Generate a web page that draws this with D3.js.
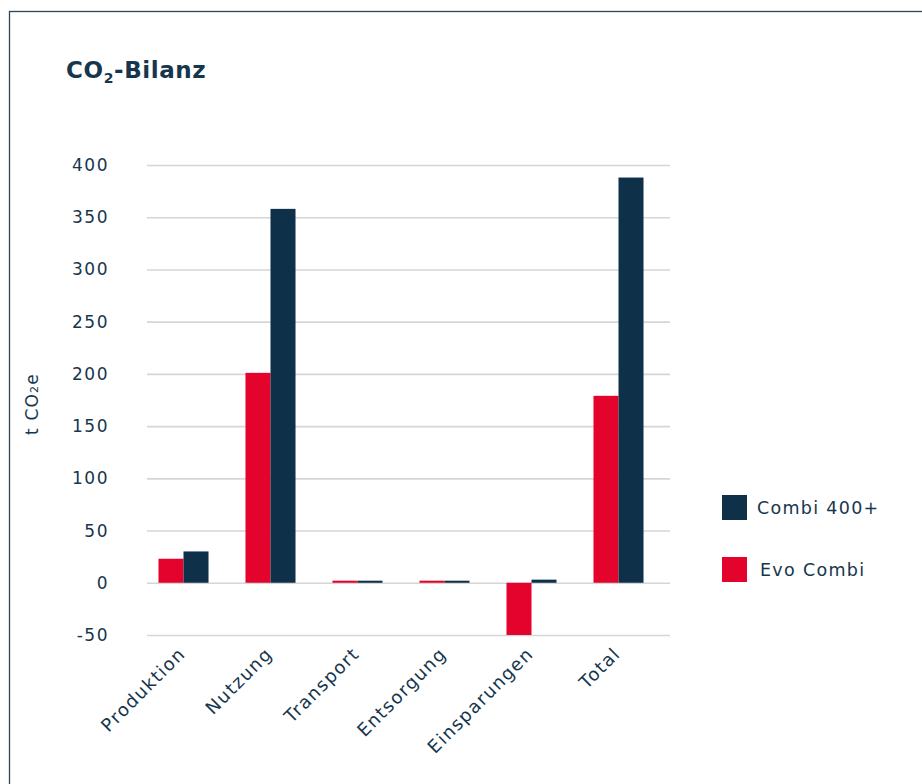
<!DOCTYPE html>
<html>
<head>
<meta charset="utf-8">
<script src="https://cdn.jsdelivr.net/npm/d3@7"></script>
<style>
  body { margin: 0; background: #fff; }
  svg { display: block; font-family: 'DejaVu Sans', sans-serif; }
</style>
</head>
<body>
<div id="chart"></div>
<script>
const categories = ['Produktion', 'Nutzung', 'Transport', 'Entsorgung', 'Einsparungen', 'Total'];
const seriesNames = ['Evo Combi', 'Combi 400+'];
const evoCombi = [23, 201, 2, 2, -50, 179];
const combi400 = [30, 358, 2, 2, 3, 388];
const yTicks = [-50, 0, 50, 100, 150, 200, 250, 300, 350, 400];

const colors = { 'Evo Combi': '#e4032c', 'Combi 400+': '#0f3049' };
const textColor = '#16364e';
const labelFont = "'DejaVu Sans', sans-serif";

const width = 922, height = 784;

const svg = d3.select('#chart')
  .append('svg')
  .attr('width', width)
  .attr('height', height);

// frame
svg.append('rect')
  .attr('x', 9.5).attr('y', 11.5)
  .attr('width', 940).attr('height', 800)
  .attr('fill', 'none')
  .attr('stroke', '#2c4558')
  .attr('stroke-width', 1.3);

// title
const title = svg.append('text')
  .attr('x', 66).attr('y', 78)
  .attr('fill', textColor)
  .style('font-size', '23px')
  .style('font-weight', 700)
  .style('letter-spacing', '0.6px');
title.append('tspan').text('CO');
title.append('tspan').text('2').attr('dy', 5).style('font-size', '14px');
title.append('tspan').text('-Bilanz').attr('dy', -5);

const yScale = d3.scaleLinear()
  .domain([-50, 400])
  .range([635, 165]);

const xScale = d3.scaleBand()
  .domain(categories)
  .range([140, 662])
  .paddingInner(0.425)
  .paddingOuter(0.2125);

const xSub = d3.scaleBand()
  .domain(seriesNames)
  .range([0, xScale.bandwidth()]);

// gridlines
const grid = svg.append('g')
  .attr('transform', 'translate(147,0)')
  .call(d3.axisLeft(yScale).tickValues(yTicks).tickFormat('').tickSize(-523));
grid.select('.domain').remove();
grid.selectAll('line').attr('stroke', '#d6d6d6').attr('stroke-width', 1.6);

// y axis labels
const yAxis = svg.append('g')
  .attr('transform', 'translate(109,0)')
  .call(d3.axisLeft(yScale).tickValues(yTicks).tickSize(0).tickPadding(0)
    .tickFormat((d) => String(d)));
yAxis.select('.domain').remove();
yAxis.selectAll('text')
  .attr('fill', textColor)
  .style('font-size', '17px')
  .style('letter-spacing', '1.5px')
  .style('font-family', labelFont);

// y label
const yLabel = svg.append('text')
  .attr('transform', 'translate(38,404) rotate(-90)')
  .attr('text-anchor', 'middle')
  .attr('fill', textColor)
  .style('font-size', '17px')
  .style('letter-spacing', '1.2px');
yLabel.append('tspan').text('t CO');
yLabel.append('tspan').text('2').style('font-size', '11px');
yLabel.append('tspan').text('e');

// bars
const rows = categories.map((c, i) => ({
  category: c,
  values: [
    { name: 'Evo Combi', value: evoCombi[i] },
    { name: 'Combi 400+', value: combi400[i] },
  ],
}));

svg.append('g')
  .selectAll('g')
  .data(rows)
  .join('g')
  .attr('transform', (d) => `translate(${xScale(d.category)},0)`)
  .selectAll('rect')
  .data((d) => d.values)
  .join('rect')
  .attr('x', (d) => xSub(d.name))
  .attr('width', xSub.bandwidth())
  .attr('y', (d) => yScale(Math.max(0, d.value)))
  .attr('height', (d) => Math.abs(yScale(d.value) - yScale(0)))
  .attr('fill', (d) => colors[d.name]);

// x labels
svg.append('g')
  .selectAll('text')
  .data(categories)
  .join('text')
  .attr('transform', (d) => `translate(${xScale(d) + xScale.bandwidth() / 2 + 3},${655}) rotate(-45)`)
  .attr('text-anchor', 'end')
  .attr('fill', textColor)
  .style('font-size', '18px')
  .style('letter-spacing', '1.4px')
  .text((d) => d);

// legend
const legendItems = ['Combi 400+', 'Evo Combi'];
const legend = svg.append('g')
  .selectAll('g')
  .data(legendItems)
  .join('g')
  .attr('transform', (d, i) => `translate(722,${495 + i * 62})`);
legend.append('rect')
  .attr('width', 25).attr('height', 25)
  .attr('fill', (d) => colors[d]);
legend.append('text')
  .attr('x', (d, i) => (i === 0 ? 35 : 38))
  .attr('y', 13)
  .attr('dy', '0.35em')
  .attr('fill', textColor)
  .style('font-size', '17.5px')
  .style('letter-spacing', '1.3px')
  .text((d) => d);
</script>
</body>
</html>
